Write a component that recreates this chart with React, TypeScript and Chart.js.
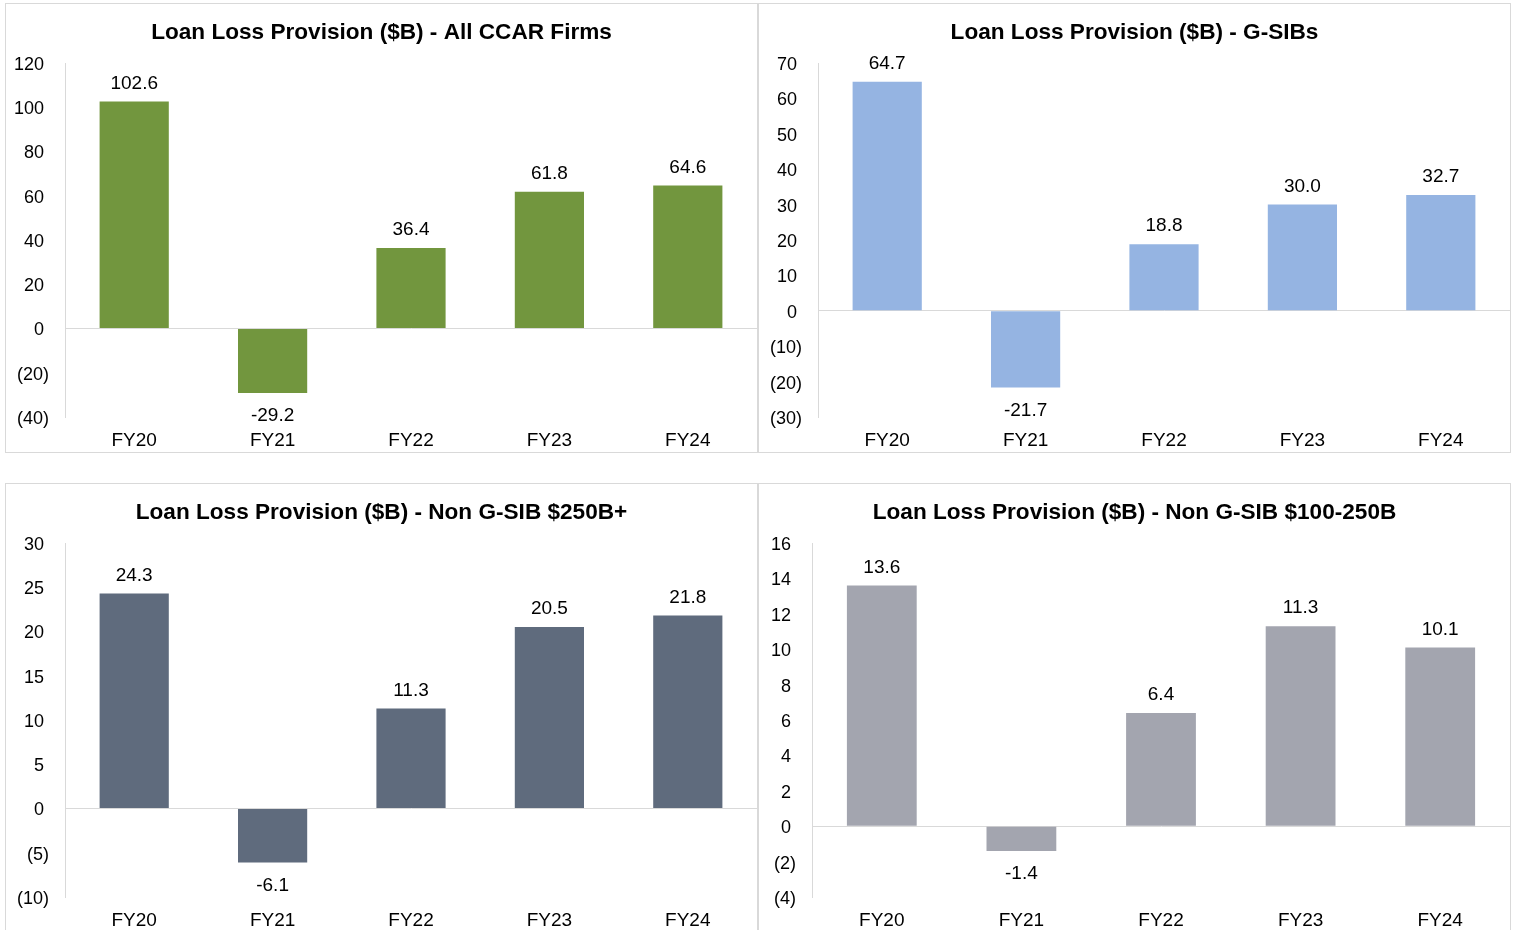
import React, { useEffect, useRef } from "react";
import { Chart, registerables } from "chart.js";

Chart.register(...registerables);

const categories = ["FY20", "FY21", "FY22", "FY23", "FY24"];

const allCcarValues = [102.6, -29.2, 36.4, 61.8, 64.6];
const gsibValues = [64.7, -21.7, 18.8, 30.0, 32.7];
const nonGsib250Values = [24.3, -6.1, 11.3, 20.5, 21.8];
const nonGsib100Values = [13.6, -1.4, 6.4, 11.3, 10.1];

const allCcarTicks = { min: -40, max: 120, step: 20 };
const gsibTicks = { min: -30, max: 70, step: 10 };
const nonGsib250Ticks = { min: -10, max: 30, step: 5 };
const nonGsib100Ticks = { min: -4, max: 16, step: 2 };

const FONT = "'Liberation Sans', Arial, sans-serif";
const GRID = "#d9d9d9";

type PanelProps = {
  title: string;
  values: number[];
  color: string;
  ticks: { min: number; max: number; step: number };
  left: number;
  top: number;
  axisWidth: number;
};

const INNER_W = 751;
const INNER_H = 448;

function Panel({ title, values, color, ticks, left, top, axisWidth }: PanelProps) {
  const ref = useRef<HTMLCanvasElement | null>(null);
  useEffect(() => {
    if (!ref.current) return;
    const labelPlugin = {
      id: "barLabels",
      afterDatasetsDraw(chart: any) {
        const ctx = chart.ctx;
        const meta = chart.getDatasetMeta(0);
        ctx.save();
        ctx.font = `19px ${FONT}`;
        ctx.fillStyle = "#000";
        ctx.textAlign = "center";
        ctx.textBaseline = "middle";
        meta.data.forEach((el: any, i: number) => {
          const v = values[i];
          const y = v >= 0 ? el.y - 18 : el.y + 23;
          ctx.fillText(v.toFixed(1), el.x, y);
        });
        ctx.restore();
      },
    };
    const titlePlugin = {
      id: "panelTitle",
      afterDraw(chart: any) {
        const ctx = chart.ctx;
        ctx.save();
        ctx.font = `bold 22.6px ${FONT}`;
        ctx.fillStyle = "#000";
        ctx.textAlign = "center";
        ctx.textBaseline = "middle";
        ctx.fillText(title, chart.width / 2, 29);
        ctx.restore();
      },
    };
    const chart = new Chart(ref.current, {
      type: "bar",
      data: {
        labels: categories,
        datasets: [
          {
            data: values,
            backgroundColor: color,
            borderWidth: 0,
            barPercentage: 0.5,
            categoryPercentage: 1,
          },
        ],
      },
      options: {
        animation: false,
        responsive: true,
        maintainAspectRatio: false,
        layout: { padding: { top: 59, right: 0, bottom: 0, left: 0 } },
        plugins: {
          legend: { display: false },
          tooltip: { enabled: false },
          title: { display: false },
        },
        scales: {
          x: {
            grid: { display: false, drawTicks: false },
            border: { display: false },
            ticks: {
              color: "#000",
              font: { family: FONT, size: 19 },
              padding: 12,
              maxRotation: 0,
            },
            afterFit(scale: any) {
              scale.height = 35;
            },
          },
          y: {
            min: ticks.min,
            max: ticks.max,
            grid: {
              drawTicks: false,
              color: (c: any) => (c.tick && c.tick.value === 0 ? GRID : "rgba(0,0,0,0)"),
              lineWidth: 1,
            },
            border: { display: true, color: GRID, width: 1 },
            ticks: {
              stepSize: ticks.step,
              color: "#000",
              font: { family: FONT, size: 18 },
              padding: 16,
              labelOffset: 2,
              callback: (v: any) => (Number(v) < 0 ? `(${Math.abs(Number(v))})` : `${v} `),
            },
            afterFit(scale: any) {
              scale.width = axisWidth;
            },
          },
        },
      },
      plugins: [labelPlugin, titlePlugin],
    });
    return () => chart.destroy();
  }, []);
  return (
    <div
      style={{
        position: "absolute",
        left,
        top,
        width: INNER_W,
        height: INNER_H,
        border: `1px solid ${GRID}`,
        background: "#fff",
      }}
    >
      <div style={{ position: "relative", width: "100%", height: "100%" }}>
        <canvas ref={ref} />
      </div>
    </div>
  );
}

export default function App() {
  return (
    <div
      style={{
        position: "fixed",
        left: 0,
        top: 0,
        width: 1517,
        height: 930,
        overflow: "hidden",
        background: "#fff",
      }}
    >
      <Panel
        title="Loan Loss Provision ($B) - All CCAR Firms"
        values={allCcarValues}
        color="#72963e"
        ticks={allCcarTicks}
        left={5}
        top={3}
        axisWidth={59}
      />
      <Panel
        title="Loan Loss Provision ($B) - G-SIBs"
        values={gsibValues}
        color="#95b4e2"
        ticks={gsibTicks}
        left={758}
        top={3}
        axisWidth={59}
      />
      <Panel
        title="Loan Loss Provision ($B) - Non G-SIB $250B+"
        values={nonGsib250Values}
        color="#5f6b7d"
        ticks={nonGsib250Ticks}
        left={5}
        top={483}
        axisWidth={59}
      />
      <Panel
        title="Loan Loss Provision ($B) - Non G-SIB $100-250B"
        values={nonGsib100Values}
        color="#a3a5af"
        ticks={nonGsib100Ticks}
        left={758}
        top={483}
        axisWidth={53}
      />
    </div>
  );
}
